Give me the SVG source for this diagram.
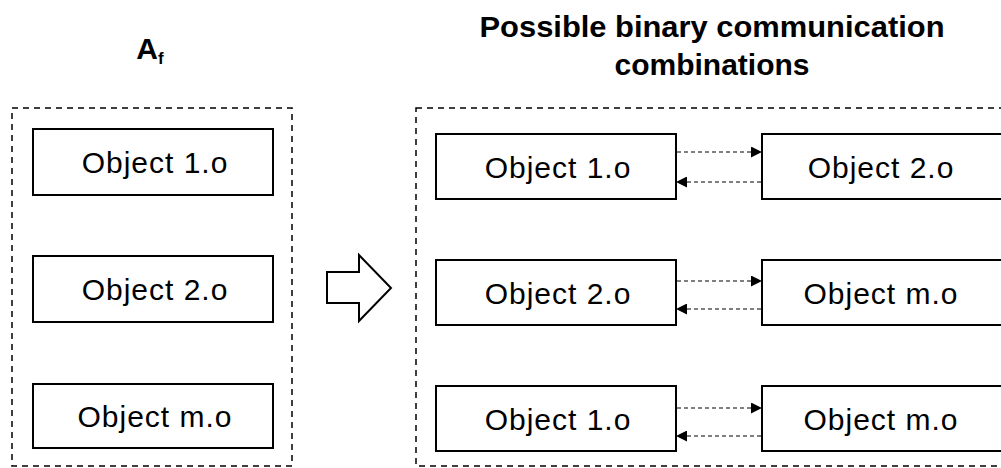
<svg xmlns="http://www.w3.org/2000/svg" width="1001" height="468" viewBox="0 0 1001 468">
<style>
.box{fill:#fff;stroke:#000;stroke-width:2}
.grp{fill:none;stroke:#000;stroke-width:1.5;stroke-dasharray:6 5}
.lbl{font-family:"Liberation Sans",Arial,sans-serif;font-size:30px;letter-spacing:1px;text-anchor:middle;fill:#000}
.ttl{font-family:"Liberation Sans",Arial,sans-serif;font-size:30px;font-weight:bold;text-anchor:middle;fill:#000}
.con{fill:none;stroke:#000;stroke-width:1;stroke-dasharray:4 3}
</style>
<defs>
<marker id="ah" markerWidth="11" markerHeight="11" refX="10" refY="5.5" orient="auto" markerUnits="userSpaceOnUse">
<path d="M0,0 L11,5.5 L0,11 Z" fill="#000"/>
</marker>
</defs>
<rect width="1001" height="468" fill="#fff"/>
<g id="title-af"><text class="ttl" x="150" y="59" font-size="25">A<tspan font-size="17" dy="5">f</tspan></text></g>
<g id="title-comb"><text class="ttl" x="712" y="37" textLength="465" lengthAdjust="spacingAndGlyphs">Possible binary communication</text><text class="ttl" x="712" y="75">combinations</text></g>
<g id="group-af"><rect class="grp" x="12" y="108" width="280" height="358"/></g>
<g id="group-comb"><rect class="grp" x="416" y="108" width="590" height="358"/></g>
<g id="a1"><rect class="box" x="33" y="129" width="240" height="66"/><text class="lbl" x="155" y="173">Object 1.o</text></g>
<g id="a2"><rect class="box" x="33" y="256" width="240" height="66"/><text class="lbl" x="155" y="300">Object 2.o</text></g>
<g id="a3"><rect class="box" x="33" y="384" width="240" height="64"/><text class="lbl" x="155" y="427">Object m.o</text></g>
<g id="block-arrow"><path d="M327,272 H359 V255 L391,288 L359,321 V303 H327 Z" fill="#fff" stroke="#000" stroke-width="2"/></g>
<g id="r1a"><rect class="box" x="436" y="134" width="240" height="65"/><text class="lbl" x="558" y="178">Object 1.o</text></g>
<g id="r1b"><rect class="box" x="762" y="134" width="240" height="65"/><text class="lbl" x="881" y="178">Object 2.o</text></g>
<g id="r2a"><rect class="box" x="436" y="260" width="240" height="65"/><text class="lbl" x="558" y="304">Object 2.o</text></g>
<g id="r2b"><rect class="box" x="762" y="260" width="240" height="65"/><text class="lbl" x="881" y="304">Object m.o</text></g>
<g id="r3a"><rect class="box" x="436" y="386" width="240" height="65"/><text class="lbl" x="558" y="430">Object 1.o</text></g>
<g id="r3b"><rect class="box" x="762" y="386" width="240" height="65"/><text class="lbl" x="881" y="430">Object m.o</text></g>
<g id="connectors">
<line class="con" x1="677" y1="152" x2="761" y2="152" marker-end="url(#ah)"/>
<line class="con" x1="761" y1="182" x2="677" y2="182" marker-end="url(#ah)"/>
<line class="con" x1="677" y1="281" x2="761" y2="281" marker-end="url(#ah)"/>
<line class="con" x1="761" y1="309" x2="677" y2="309" marker-end="url(#ah)"/>
<line class="con" x1="677" y1="408" x2="761" y2="408" marker-end="url(#ah)"/>
<line class="con" x1="761" y1="436" x2="677" y2="436" marker-end="url(#ah)"/>
</g>
</svg>
